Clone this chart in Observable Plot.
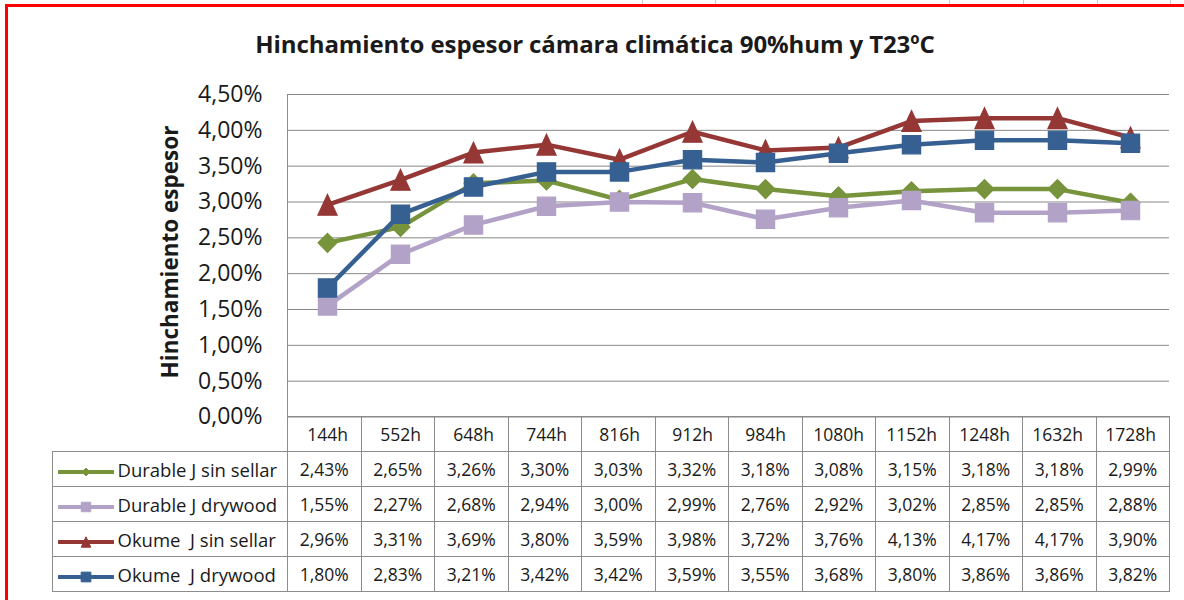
<!DOCTYPE html>
<html>
<head>
<meta charset="utf-8">
<script src="https://cdn.jsdelivr.net/npm/d3@7"></script>
<script src="https://cdn.jsdelivr.net/npm/@observablehq/plot@0.6"></script>
<style>
  body { margin: 0; background: #fff; }
  #root { position: relative; width: 1184px; height: 600px; overflow: hidden; background: #fff;
          font-family: "Open Sans", sans-serif; color: #1a1a1a; }
  .gridmark { position: absolute; top: 0; width: 1px; height: 4px; background: #c8c8c8; }
  #redTop { position: absolute; left: 5px; top: 4px; width: 1190px; height: 2.5px; background: #ff0000; }
  #redLeft { position: absolute; left: 5px; top: 4px; width: 2.5px; height: 600px; background: #ff0000; }
  #title { position: absolute; left: 0; width: 1190px; top: 29px; line-height: 30px; text-align: center;
           font-weight: 700; font-size: 24px; white-space: nowrap; letter-spacing: -0.1px; }
  #ytitle { position: absolute; left: 169px; top: 252px; transform: translate(-50%, -50%) rotate(-90deg);
            font-weight: 700; font-size: 22.5px; white-space: nowrap; }
  #chart { position: absolute; left: 0; top: 80px; z-index: 2; }
  #tbl { position: absolute; border-collapse: collapse; table-layout: fixed; z-index: 1; }
  #tbl td { border: 1px solid #8c8c8c; height: 34px; padding: 0; font-size: 17.5px; text-align: center;
            vertical-align: middle; white-space: pre; overflow: hidden; }
  #tbl td.blank { border: none; }
  #tbl td.leg { text-align: left; font-size: 18.5px; }
  #tbl td.leg svg { vertical-align: middle; margin-left: 5px; margin-right: 4px; }
  #plotLeft { position: absolute; width: 1px; background: #8c8c8c; z-index: 1; }
</style>
</head>
<body>
<div id="root">
  <div id="redTop"></div>
  <div id="redLeft"></div>
  <div id="title">Hinchamiento espesor cámara climática 90%hum y T23ºC</div>
  <div id="ytitle">Hinchamiento espesor</div>
</div>
<script>
// ---------------- data ----------------
const categories = ["144h", "552h", "648h", "744h", "816h", "912h", "984h", "1080h", "1152h", "1248h", "1632h", "1728h"];
const seriesNames = ["Durable J sin sellar", "Durable J drywood", "Okume  J sin sellar", "Okume  J drywood"];
const durableSinSellar = [2.43, 2.65, 3.26, 3.30, 3.03, 3.32, 3.18, 3.08, 3.15, 3.18, 3.18, 2.99];
const durableDrywood   = [1.55, 2.27, 2.68, 2.94, 3.00, 2.99, 2.76, 2.92, 3.02, 2.85, 2.85, 2.88];
const okumeSinSellar   = [2.96, 3.31, 3.69, 3.80, 3.59, 3.98, 3.72, 3.76, 4.13, 4.17, 4.17, 3.90];
const okumeDrywood     = [1.80, 2.83, 3.21, 3.42, 3.42, 3.59, 3.55, 3.68, 3.80, 3.86, 3.86, 3.82];
const yTicks = [0, 0.5, 1, 1.5, 2, 2.5, 3, 3.5, 4, 4.5];
const sheetGridX = [642, 715, 949, 1023, 1097, 1170];

// ---------------- styling ----------------
const colors = ["#77933C", "#B3A2C7", "#953735", "#376092"];
const triangle = {
  draw(context, size) {
    const r = Math.sqrt(size / Math.PI);
    const w = 1.2 * r, h = 1.3 * r;
    context.moveTo(0, -h); context.lineTo(w, h); context.lineTo(-w, h); context.closePath();
  }
};
const symbols = ["diamond2", "square", triangle, "square"];
const radii = [8.5, 10.3, 8, 10.3];
const fmt = v => v.toFixed(2).replace(".", ",") + "%";

const allSeries = [durableSinSellar, durableDrywood, okumeSinSellar, okumeDrywood];
const tables = allSeries.map((vals, s) => categories.map((c, i) => ({cat: c, value: vals[i], series: seriesNames[s]})));

const root = document.getElementById("root");
sheetGridX.forEach(x => {
  const d = document.createElement("div");
  d.className = "gridmark"; d.style.left = x + "px"; root.appendChild(d);
});

const marks = [
  Plot.gridY({ticks: yTicks, stroke: "#878787", strokeOpacity: 1, strokeWidth: 1}),
  Plot.axisY({ticks: yTicks, tickSize: 0, tickPadding: 25, tickFormat: fmt, fontSize: 23, label: null}),
  Plot.axisX({anchor: "bottom", tickSize: 0, tickPadding: 12, fontSize: 17.5, label: null})
];
tables.forEach((rows, s) => {
  marks.push(Plot.line(rows, {x: "cat", y: "value", stroke: colors[s], strokeWidth: 4.5}));
  marks.push(Plot.dot(rows, {x: "cat", y: "value", symbol: symbols[s], r: radii[s], fill: colors[s], stroke: colors[s], strokeWidth: 1.2}));
});

const chart = Plot.plot({
  width: 1184,
  height: 373,
  marginTop: 14,
  marginBottom: 36.5,
  marginLeft: 287,
  marginRight: 15,
  style: {fontFamily: '"Open Sans", sans-serif', color: "#1a1a1a", background: "transparent", overflow: "visible"},
  x: {type: "point", domain: categories, padding: 0.5, axis: null},
  y: {domain: [0, 4.5], axis: null},
  marks
});
chart.id = "chart";
root.appendChild(chart);

// ---------------- data table (legend) ----------------
const xs = chart.scale("x");
const ys = chart.scale("y");
const [x0, x1] = xs.range;
const colW = (x1 - x0) / categories.length;
const legendLeft = 51.5;
const plotTop = 80 + ys.range[1];
const plotBottom = 80 + ys.range[0];

const pl = document.createElement("div");
pl.id = "plotLeft";
pl.style.left = (x0 - 0.5) + "px";
pl.style.top = plotTop + "px";
pl.style.height = (plotBottom - plotTop) + "px";
root.appendChild(pl);

const tbl = document.createElement("table");
tbl.id = "tbl";
tbl.style.left = legendLeft + "px";
tbl.style.top = (plotBottom - 0.5) + "px";
const cg = document.createElement("colgroup");
const c0 = document.createElement("col"); c0.style.width = (x0 - legendLeft) + "px"; cg.appendChild(c0);
categories.forEach(() => { const c = document.createElement("col"); c.style.width = colW + "px"; cg.appendChild(c); });
tbl.appendChild(cg);
tbl.style.width = (x1 - legendLeft) + "px";

// header row (labels drawn by the Plot axis above)
const hr = document.createElement("tr");
const hb = document.createElement("td"); hb.className = "blank"; hr.appendChild(hb);
categories.forEach(() => hr.appendChild(document.createElement("td")));
tbl.appendChild(hr);

allSeries.forEach((vals, s) => {
  const tr = document.createElement("tr");
  const lt = document.createElement("td");
  lt.className = "leg";
  const sw = d3.create("svg").attr("width", 56).attr("height", 14);
  sw.append("line").attr("x1", 1).attr("x2", 55).attr("y1", 7).attr("y2", 7)
    .attr("stroke", colors[s]).attr("stroke-width", 4).attr("stroke-linecap", "round");
  const symType = typeof symbols[s] === "string"
    ? (symbols[s] === "diamond2" ? d3.symbolDiamond2 : d3.symbolSquare)
    : symbols[s];
  const symSize = [40, 90, 50, 95][s];
  sw.append("path").attr("transform", "translate(28,7)")
    .attr("d", d3.symbol(symType, symSize)())
    .attr("fill", colors[s]).attr("stroke", colors[s]).attr("stroke-width", 1);
  lt.appendChild(sw.node());
  lt.appendChild(document.createTextNode(seriesNames[s]));
  tr.appendChild(lt);
  vals.forEach(v => {
    const td = document.createElement("td");
    td.textContent = fmt(v);
    tr.appendChild(td);
  });
  tbl.appendChild(tr);
});
root.appendChild(tbl);
</script>
</body>
</html>
